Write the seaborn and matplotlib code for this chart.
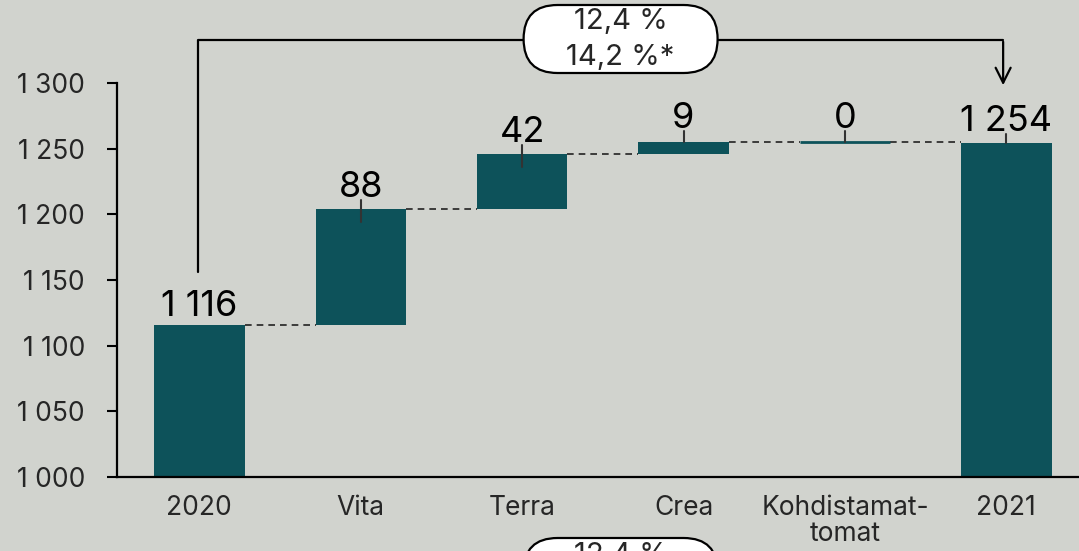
import numpy as np
import pandas as pd
import seaborn as sns
import matplotlib
matplotlib.use("Agg")
import matplotlib.pyplot as plt
from matplotlib.patches import FancyBboxPatch

## data
categories = ["2020", "Vita", "Terra", "Crea", "Kohdistamat-\ntomat", "2021"]
deltas = [1116, 88, 42, 9, 0]
total_2021 = 1254
value_labels = ["1 116", "88", "42", "9", "0", "1 254"]
growth_text = "12,4 %\n14,2 %*"
growth_text_2 = "12,4 %"

## waterfall tops / bottoms
tops = list(np.cumsum(deltas)) + [total_2021]
bottoms = [0] + list(np.cumsum(deltas)[:-1]) + [0]
df = pd.DataFrame({"cat": categories, "top": tops, "bottom": bottoms})

BG = "#d1d3ce"
BAR = "#0d525a"

sns.set_theme(style="white", rc={"axes.facecolor": BG, "figure.facecolor": BG})
plt.rcParams["font.family"] = ["Inter", "DejaVu Sans"]

fig = plt.figure(figsize=(10.79, 5.51), dpi=100)
ax = fig.add_axes([117 / 1079, 74 / 551, 1 - 117 / 1079, 1 - 74 / 551])

W = 0.56
# full bars, then cover the part below each bottom with the background colour
sns.barplot(data=df, x="cat", y="top", color=BAR, width=W, saturation=1,
            linewidth=0, ax=ax)
sns.barplot(data=df, x="cat", y="bottom", color=BG, width=W, saturation=1,
            linewidth=0, ax=ax)

ax.set_xlim(-0.51, 5.45)
ax.set_ylim(1000, 1363.2)
ax.set_yticks(range(1000, 1301, 50))
ax.set_yticklabels([f"{v // 1000} {v % 1000:03d}" for v in range(1000, 1301, 50)],
                   fontsize=19)
ax.tick_params(axis="y", length=7, width=1.5, color="black", pad=16, left=True)
ax.tick_params(axis="x", length=0, labelsize=19, pad=13)
for lab in ax.get_xticklabels():
    lab.set_linespacing(1.0)
ax.set_xlabel("")
ax.set_ylabel("")
for s in ["top", "right"]:
    ax.spines[s].set_visible(False)
for s in ["left", "bottom"]:
    ax.spines[s].set_linewidth(1.6)
    ax.spines[s].set_color("black")
ax.spines["left"].set_bounds(1000, 1300)

# pixel scale
px_x = (1079 - 117) / (5.45 + 0.51)
px_y = 477 / (1363.2 - 1000)

# zero-change bars still show as a thin line
for i, d in enumerate(deltas):
    if d == 0:
        ax.plot([i - W / 2, i + W / 2], [tops[i], tops[i]], color=BAR, lw=2,
                solid_capstyle="butt", zorder=3)

# dashed connectors
for i in range(len(tops) - 1):
    ax.plot([i + W / 2, i + 1 - W / 2], [tops[i], tops[i]], ls=(0, (4, 3)),
            color="#222222", lw=1.2, zorder=2)

# small leader ticks and value labels
for i, (t, b) in enumerate(zip(tops, bottoms)):
    h_px = (t - max(b, 1000)) * px_y
    if i > 0:
        down = 13 if (0 < i < 5 and h_px > 30) else 0
        up = 9 if h_px > 30 else 11
        ax.plot([i, i], [t - down / px_y, t + up / px_y], color="#333333",
                lw=1.5, zorder=4)
        lab_y = t + (up + 3) / px_y
    else:
        lab_y = t + 9 / px_y
    ax.text(i, lab_y, value_labels[i], ha="center", va="baseline", fontsize=26,
            color="black")

# growth bracket with arrow
y_br = 1000 + (477 - 40) / px_y
ax.plot([-0.01, -0.01, 4.98], [1000 + (477 - 272) / px_y, y_br, y_br],
        color="black", lw=1.6, clip_on=False)
ax.annotate("", xy=(4.98, 1000 + (477 - 88) / px_y), xytext=(4.98, y_br + 0.8),
            arrowprops=dict(arrowstyle="->,head_length=0.9,head_width=0.45",
                            lw=1.6, color="black"),
            annotation_clip=False)

def pill(cx, top_px, w_px, h_px, text, text_offsets):
    w = w_px / px_x
    h = h_px / px_y
    y_top = 1000 + (477 - top_px) / px_y
    p = FancyBboxPatch((cx - w / 2, y_top - h), w, h,
                       boxstyle=f"round,pad=0,rounding_size={h_px / 2 / px_x}",
                       mutation_aspect=px_x / px_y, facecolor="white",
                       edgecolor="black", lw=1.6, clip_on=False, zorder=5)
    ax.add_patch(p)
    for line, off in zip(text.split("\n"), text_offsets):
        ax.text(cx, 1000 + (477 - top_px - off) / px_y, line, ha="center",
                va="center", fontsize=21, zorder=6, clip_on=False)

pill(2.61, 5, 194, 68, growth_text, [17, 52])
pill(2.61, 538, 194, 68, growth_text_2, [17])

fig.savefig("out.png", dpi=100, facecolor=BG)
